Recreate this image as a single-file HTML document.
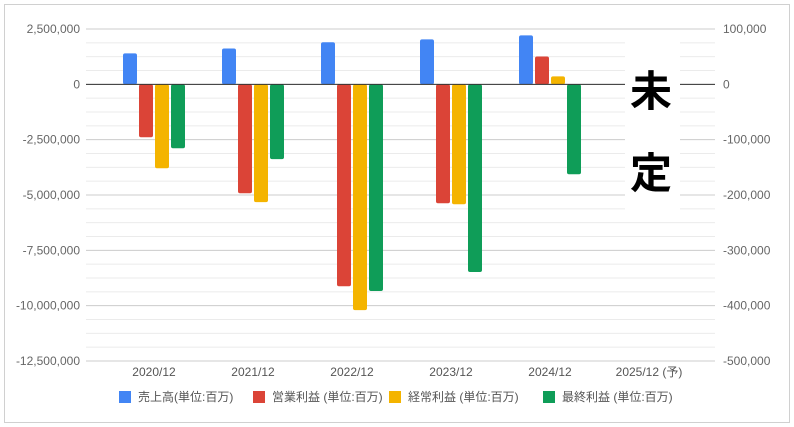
<!DOCTYPE html>
<html><head><meta charset="utf-8"><style>
body{margin:0;background:#fff;}
svg{display:block;font-family:"Liberation Sans","Noto Sans CJK JP",sans-serif;}
</style></head><body>
<svg id="c" width="794" height="427">
<rect x="4.5" y="4.5" width="785" height="418" fill="#fff" stroke="#d0d0d0"/>
<g id="grid"></g><g id="bars"></g><g id="labels"></g>
</svg>
<script>
const categories=["2020/12","2021/12","2022/12","2023/12","2024/12","2025/12 (予)"];
const revenue=[1400000,1620000,1900000,2030000,2210000,null];
const operating=[-2390000,-4920000,-9120000,-5370000,1260000,null];
const ordinary=[-3790000,-5320000,-10200000,-5420000,360000,null];
const net=[-2890000,-3380000,-9340000,-8480000,-4060000,null];
const leftTicks=[2500000,0,-2500000,-5000000,-7500000,-10000000,-12500000];
const rightTicks=[100000,0,-100000,-200000,-300000,-400000,-500000];
const seriesNames=["売上高(単位:百万)","営業利益 (単位:百万)","経常利益 (単位:百万)","最終利益 (単位:百万)"];
const colors=["#4285f4","#db4437","#f4b400","#0f9d58"];
const NS="http://www.w3.org/2000/svg";
const X0=86,X1=715,Y0=29,Y1=361;
const yL=v=>Y0+(2500000-v)/15000000*(Y1-Y0);
const bandW=99;
const xC=i=>154+bandW*i;
function mk(t,a,p){const e=document.createElementNS(NS,t);for(const k in a)e.setAttribute(k,a[k]);p.appendChild(e);return e;}
const grid=document.getElementById('grid'),bars=document.getElementById('bars'),labels=document.getElementById('labels');
const fmt=v=>v.toLocaleString('en-US');
for(let i=0;i<leftTicks.length-1;i++){for(let j=1;j<4;j++){const v=leftTicks[i]-j*625000;const l=mk('line',{x1:X0,x2:X1,y1:yL(v),y2:yL(v),stroke:'#ebebeb'},grid);}}
leftTicks.forEach((v,i)=>{const y=yL(v);
const l=mk('line',{x1:X0,x2:X1,y1:y,y2:y,stroke:'#cccccc'},grid);

const t=mk('text',{x:80,y:y+4,'text-anchor':'end','font-size':12,fill:'#666'},labels);t.textContent=fmt(v);

const r=mk('text',{x:723,y:y+4,'font-size':12,fill:'#666'},labels);r.textContent=fmt(rightTicks[i]);
});
const all=[revenue,operating,ordinary,net];
categories.forEach((c,i)=>{all.forEach((s,k)=>{const v=s[i];if(v==null)return;
const x=xC(i)-31+k*16;const y=Math.min(yL(v),yL(0)),h=Math.abs(yL(v)-yL(0));
const b=mk('rect',{x:x,y:y,width:14,height:h,rx:2,fill:colors[k]},bars);
});
const t=mk('text',{x:xC(i),y:376,'text-anchor':'middle','font-size':12,fill:'#555'},labels);t.textContent=c;
});
const z=mk('line',{x1:X0,x2:X1,y1:yL(0),y2:yL(0),stroke:'#333'},bars);

const box=mk('rect',{x:625,y:33,width:55,height:177,fill:'#fff'},bars);

[["未",106],["定",188]].forEach(([s,y])=>{const t=mk('text',{x:651,y:y,'text-anchor':'middle','font-size':42,'font-weight':'bold',fill:'#000'},bars);t.textContent=s;
});
const lx=[119,253,389,543];
seriesNames.forEach((n,k)=>{const g=mk('g',{},labels);
mk('rect',{x:lx[k],y:391,width:12,height:12,fill:colors[k]},g);
const t=mk('text',{x:lx[k]+19,y:401,'font-size':12,fill:'#555'},g);t.textContent=n;});
</script>
</body></html>
